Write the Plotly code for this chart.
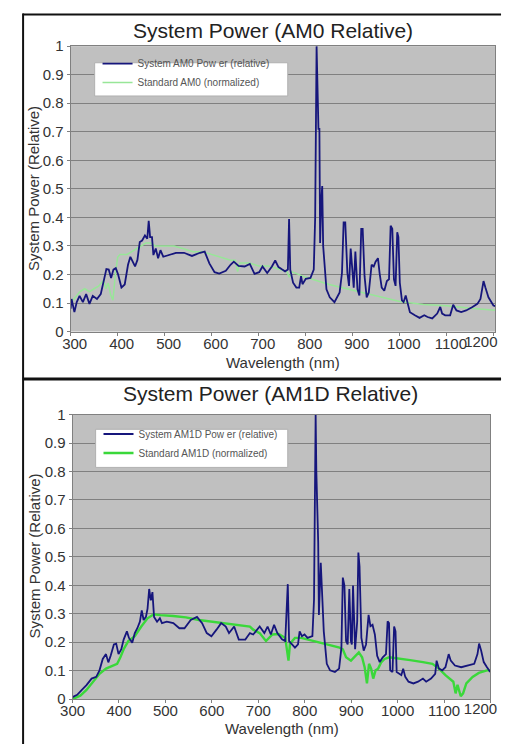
import plotly.graph_objects as go

# ---------------- data ----------------
am0_sys_wl = [300, 302, 308, 313, 319, 326, 333, 340, 347, 356, 364, 371, 376, 381, 386, 391, 396, 401, 408, 415,
              422, 427, 432, 437, 442, 447, 452, 458, 463, 466, 469, 473, 476, 481, 486, 491, 497, 507, 524, 541,
              558, 575, 585, 595, 606, 616, 630, 640, 647, 657, 670, 681, 691, 701, 708, 718, 728, 735, 742, 750,
              756, 762, 764.5, 767, 773, 780, 786, 790, 793, 800, 810, 817, 820, 823, 825, 827, 829, 830.5, 833, 835,
              837, 841, 844, 851, 861, 872, 877, 880.5, 884, 888.5, 892, 895.5, 899, 902, 905.5, 910, 914, 918, 921, 925,
              929.5, 934, 940, 944.5, 948.5, 953.5, 957, 961.5, 967, 972.5, 977, 980.5, 984, 987.5, 991, 994.5, 997, 1000,
              1004.5, 1008, 1012.5, 1017, 1021.5, 1032, 1042, 1052, 1059, 1069, 1079.5, 1086, 1090, 1096.5, 1107, 1113.5,
              1120.5, 1130.5, 1141, 1154.5, 1165, 1171.5, 1178, 1182, 1188.5, 1199, 1203]
am0_sys_val = [0.08, 0.114, 0.068, 0.103, 0.125, 0.103, 0.131, 0.097, 0.125, 0.114, 0.131, 0.188, 0.219, 0.217, 0.188, 0.217, 0.222, 0.200, 0.154, 0.165,
               0.234, 0.262, 0.245, 0.228, 0.251, 0.314, 0.319, 0.337, 0.325, 0.388, 0.331, 0.331, 0.268, 0.291, 0.257, 0.285, 0.262, 0.268, 0.276, 0.276,
               0.265, 0.276, 0.280, 0.239, 0.208, 0.203, 0.213, 0.234, 0.245, 0.230, 0.228, 0.237, 0.202, 0.208, 0.228, 0.205, 0.228, 0.249, 0.226, 0.217,
               0.211, 0.217, 0.394, 0.217, 0.171, 0.154, 0.154, 0.194, 0.166, 0.185, 0.188, 0.217, 0.40, 1.0, 0.85, 0.71, 0.71, 0.31, 0.46, 0.51,
               0.30, 0.228, 0.148, 0.12, 0.103, 0.137, 0.205, 0.382, 0.382, 0.205, 0.160, 0.291, 0.205, 0.154, 0.280, 0.148, 0.126, 0.360, 0.360, 0.194,
               0.120, 0.137, 0.234, 0.228, 0.245, 0.257, 0.205, 0.154, 0.143, 0.177, 0.183, 0.371, 0.360, 0.183, 0.160, 0.348, 0.331, 0.171,
               0.109, 0.103, 0.126, 0.097, 0.068, 0.057, 0.048, 0.057, 0.051, 0.046, 0.063, 0.086, 0.063, 0.057, 0.057, 0.094,
               0.074, 0.068, 0.074, 0.086, 0.097, 0.114, 0.177, 0.154, 0.12, 0.091, 0.089]

am0_std_wl = [300, 310, 320, 330, 340, 350, 360, 370, 375, 380, 385, 390, 395, 400, 405, 410, 420, 430, 440, 450,
              460, 470, 480, 490, 500, 520, 540, 560, 580, 600, 620, 640, 650, 655, 660, 680, 700, 720, 740, 760,
              765, 770, 800, 850, 900, 950, 1000, 1050, 1100, 1150, 1203]
am0_std_val = [0.10, 0.12, 0.14, 0.15, 0.14, 0.15, 0.16, 0.18, 0.15, 0.17, 0.13, 0.11, 0.20, 0.26, 0.27, 0.27, 0.27, 0.28, 0.29, 0.30,
               0.31, 0.31, 0.30, 0.30, 0.30, 0.30, 0.29, 0.28, 0.28, 0.27, 0.26, 0.25, 0.25, 0.21, 0.24, 0.24, 0.23, 0.23, 0.22, 0.21,
               0.19, 0.21, 0.19, 0.165, 0.145, 0.125, 0.105, 0.095, 0.09, 0.082, 0.075]

am1d_sys_wl = [300, 310, 320, 330, 341, 351, 358, 365, 372, 377, 382, 389, 394, 399, 405, 410, 417, 421.5, 428.5, 434,
               439.5, 445, 449, 453, 458, 461.5, 465, 468.5, 472, 475.5, 482, 488, 492.5, 503, 517, 530, 541, 554.5, 568, 579,
               589, 599, 610, 620, 630, 637, 648, 658, 672, 682, 689, 703, 713, 720, 727, 734, 741, 751, 758, 763.5,
               766.3, 772, 779, 785.5, 789, 794, 799.5, 806, 816.5, 820, 822, 823.5, 825, 827, 829, 830.5, 833, 834.5, 837, 841,
               847.5, 854.5, 865, 874, 879, 882, 885.5, 889, 892.5, 896, 899.5, 901.5, 904, 908.5, 913, 915.5, 918, 922, 927, 932,
               937.5, 941.5, 946, 951, 956, 961.5, 968, 975, 978.5, 981.5, 984, 989, 992.5, 995.5, 998, 1003, 1008, 1012, 1016.5, 1023.5,
               1034, 1044, 1054.5, 1061.5, 1072, 1081, 1084, 1089, 1096, 1103, 1110, 1114.5, 1123.5, 1137, 1151, 1165, 1172, 1175.5, 1180, 1185.5,
               1192.5, 1199.5]
am1d_sys_val = [0.007, 0.015, 0.032, 0.049, 0.072, 0.078, 0.101, 0.141, 0.158, 0.129, 0.152, 0.192, 0.195, 0.158, 0.175, 0.209, 0.238, 0.215, 0.198, 0.232,
                0.249, 0.272, 0.312, 0.278, 0.289, 0.318, 0.387, 0.347, 0.376, 0.289, 0.272, 0.284, 0.267, 0.272, 0.267, 0.249, 0.249, 0.278, 0.289, 0.267,
                0.232, 0.221, 0.244, 0.267, 0.255, 0.232, 0.255, 0.209, 0.209, 0.232, 0.227, 0.255, 0.232, 0.255, 0.227, 0.261, 0.232, 0.21, 0.204, 0.404,
                0.204, 0.192, 0.181, 0.192, 0.238, 0.221, 0.227, 0.215, 0.221, 0.35, 0.7, 1.0, 0.8, 0.66, 0.55, 0.296, 0.44, 0.479, 0.387, 0.238,
                0.124, 0.101, 0.095, 0.107, 0.181, 0.427, 0.399, 0.204, 0.192, 0.387, 0.204, 0.192, 0.399, 0.175, 0.273, 0.515, 0.467, 0.215, 0.17, 0.192,
                0.296, 0.256, 0.261, 0.227, 0.152, 0.13, 0.147, 0.158, 0.273, 0.267, 0.101, 0.095, 0.255, 0.238, 0.095, 0.089, 0.084, 0.107, 0.078, 0.061,
                0.055, 0.061, 0.072, 0.061, 0.072, 0.089, 0.135, 0.107, 0.101, 0.112, 0.158, 0.135, 0.118, 0.112, 0.118, 0.124, 0.158, 0.195, 0.17, 0.13,
                0.112, 0.095]

am1d_std_wl = [300, 316.6, 330, 344, 358, 372, 385.5, 396, 403, 410, 420, 434, 448, 461.5, 475, 489, 517, 544, 572, 599,
               627, 654.5, 682, 689, 703, 716.5, 723.5, 730.5, 744, 758, 765, 768.3, 779, 792.5, 820, 848, 875, 882, 889, 899.5,
               910, 916.5, 923.5, 929, 934, 938.5, 943, 947.5, 952.5, 958, 965, 972, 982, 999.5, 1027, 1054.5, 1075, 1089, 1103, 1120,
               1125, 1129, 1136, 1141, 1148, 1161.5, 1175, 1192.5, 1200]
am1d_std_val = [0.0, 0.012, 0.032, 0.061, 0.089, 0.107, 0.118, 0.124, 0.147, 0.175, 0.204, 0.221, 0.255, 0.284, 0.298, 0.295, 0.292, 0.287, 0.278, 0.272,
                0.267, 0.261, 0.255, 0.244, 0.232, 0.204, 0.215, 0.227, 0.229, 0.215, 0.135, 0.195, 0.215, 0.215, 0.204, 0.192, 0.181, 0.175, 0.147, 0.135,
                0.152, 0.164, 0.147, 0.112, 0.055, 0.124, 0.107, 0.072, 0.101, 0.107, 0.13, 0.141, 0.147, 0.144, 0.137, 0.13, 0.124, 0.107, 0.084, 0.061,
                0.02, 0.05, 0.01, 0.02, 0.055, 0.078, 0.092, 0.101, 0.101]

x_ticks = [300, 400, 500, 600, 700, 800, 900, 1000, 1100, 1200]
x_ticktext = [str(v) for v in x_ticks]
y_ticks = [0, 0.1, 0.2, 0.3, 0.4, 0.5, 0.6, 0.7, 0.8, 0.9, 1]
y_ticktext = ["0", "0.1", "0.2", "0.3", "0.4", "0.5", "0.6", "0.7", "0.8", "0.9", "1"]

titles = ["System Power (AM0 Relative)", "System Power (AM1D Relative)"]
x_title = "Wavelength (nm)"
y_title = "System Power (Relative)"
legend_top = ["System AM0 Pow er (relative)", "Standard AM0 (normalized)"]
legend_bot = ["System AM1D Pow er (relative)", "Standard AM1D (normalized)"]

# ---------------- figure ----------------
W, H = 509, 753
FONT = "Arial, 'Liberation Sans', sans-serif"
NAVY = "#16167c"
LGREEN = "#98e698"
BGREEN = "#3ad83a"
TICKFONT = dict(family=FONT, size=15, color="#333333")

def px(x):
    return x / W

def py(y):
    return 1 - y / H

fig = go.Figure()
fig.add_trace(go.Scatter(x=am0_std_wl, y=am0_std_val, mode="lines", name=legend_top[1],
                         line=dict(color=LGREEN, width=1.5), xaxis="x", yaxis="y", legend="legend"))
fig.add_trace(go.Scatter(x=am0_sys_wl, y=am0_sys_val, mode="lines", name=legend_top[0],
                         line=dict(color=NAVY, width=1.8), xaxis="x", yaxis="y", legend="legend"))
fig.add_trace(go.Scatter(x=am1d_std_wl, y=am1d_std_val, mode="lines", name=legend_bot[1],
                         line=dict(color=BGREEN, width=2.4), xaxis="x2", yaxis="y2", legend="legend2"))
fig.add_trace(go.Scatter(x=am1d_sys_wl, y=am1d_sys_val, mode="lines", name=legend_bot[0],
                         line=dict(color=NAVY, width=1.8), xaxis="x2", yaxis="y2", legend="legend2"))
# empty traces that carry the overlay axes used for the last (edge) tick label
fig.add_trace(go.Scatter(x=[], y=[], xaxis="x3", yaxis="y", showlegend=False, hoverinfo="skip"))
fig.add_trace(go.Scatter(x=[], y=[], xaxis="x4", yaxis="y2", showlegend=False, hoverinfo="skip"))

axis_common = dict(showline=True, linecolor="#808080", linewidth=1, mirror=True, zeroline=False,
                   ticks="outside", ticklen=3, tickcolor="#808080", tickfont=TICKFONT)

main_ticktext = x_ticktext[:-1] + [""]
edge_val = [x_ticks[-1]]
edge_text = [x_ticktext[-1]]

fig.update_layout(
    width=W, height=H, autosize=False,
    margin=dict(l=0, r=0, t=0, b=0),
    paper_bgcolor="white", plot_bgcolor="#c0c0c0",
    showlegend=True,
    xaxis=dict(domain=[px(60), px(502)], range=[300, 1203], anchor="y", showgrid=False,
               tickvals=x_ticks, ticktext=main_ticktext, ticklabelstandoff=-5, ticklabelshift=4,
               **axis_common),
    xaxis3=dict(overlaying="x", anchor="y", side="bottom", range=[300, 1203], showgrid=False, showline=False,
                zeroline=False, ticks="", tickvals=edge_val, ticktext=edge_text, tickfont=TICKFONT,
                ticklabelstandoff=-1, ticklabelshift=-13),
    yaxis=dict(domain=[py(330), py(38)], range=[0, 1], anchor="x", showgrid=True, gridcolor="#808080", gridwidth=1,
               tickvals=y_ticks, ticktext=y_ticktext, **axis_common),
    xaxis2=dict(domain=[px(62), px(497)], range=[300, 1200], anchor="y2", showgrid=False,
                tickvals=x_ticks, ticktext=main_ticktext, ticklabelstandoff=-5,
                **axis_common),
    xaxis4=dict(overlaying="x2", anchor="y2", side="bottom", range=[300, 1200], showgrid=False, showline=False,
                zeroline=False, ticks="", tickvals=edge_val, ticktext=edge_text, tickfont=TICKFONT,
                ticklabelstandoff=-1, ticklabelshift=-10),
    yaxis2=dict(domain=[py(706), py(415)], range=[0, 1], anchor="x2", showgrid=True, gridcolor="#808080", gridwidth=1,
                tickvals=y_ticks, ticktext=y_ticktext, **axis_common),
    legend=dict(x=px(88), y=py(41), xanchor="left", yanchor="top", bgcolor="rgba(0,0,0,0)",
                font=dict(family=FONT, size=10, color="#555555"), itemwidth=30, tracegroupgap=0,
                traceorder="reversed"),
    legend2=dict(x=px(89), y=py(420), xanchor="left", yanchor="top", bgcolor="rgba(0,0,0,0)",
                 font=dict(family=FONT, size=10, color="#555555"), itemwidth=30, tracegroupgap=0,
                 traceorder="reversed"),
)

shapes = [
    # legend boxes
    dict(type="rect", xref="paper", yref="paper", x0=px(85), x1=px(286), y0=py(89), y1=py(55),
         fillcolor="white", line=dict(color="#b0b0b0", width=1), layer="above"),
    dict(type="rect", xref="paper", yref="paper", x0=px(86), x1=px(286), y0=py(469), y1=py(430),
         fillcolor="white", line=dict(color="#b0b0b0", width=1), layer="above"),
    # outer frame lines
    dict(type="line", xref="paper", yref="paper", x0=px(10), x1=px(508), y0=py(5.5), y1=py(5.5),
         line=dict(color="#111111", width=2)),
    dict(type="line", xref="paper", yref="paper", x0=px(10.5), x1=px(10.5), y0=py(4.5), y1=py(752),
         line=dict(color="#111111", width=2)),
    dict(type="line", xref="paper", yref="paper", x0=px(10), x1=px(508), y0=py(378.5), y1=py(378.5),
         line=dict(color="#111111", width=3)),
]
fig.update_layout(shapes=shapes)

ann = [
    dict(text=titles[0], x=px(271), y=py(22), font=dict(family=FONT, size=21, color="#222222")),
    dict(text=titles[1], x=px(268), y=py(393), font=dict(family=FONT, size=21, color="#222222")),
    dict(text=x_title, x=px(281), y=py(362), font=dict(family=FONT, size=15, color="#333333")),
    dict(text=x_title, x=px(280), y=py(736), font=dict(family=FONT, size=15, color="#333333")),
    dict(text=y_title, x=px(22), y=py(184), textangle=-90, font=dict(family=FONT, size=15, color="#333333")),
    dict(text=y_title, x=px(22), y=py(560), textangle=-90, font=dict(family=FONT, size=15, color="#333333")),
]
for a in ann:
    a.update(xref="paper", yref="paper", showarrow=False, xanchor="center", yanchor="middle")
fig.update_layout(annotations=ann)

fig.write_html("out.html", config={"staticPlot": True})
